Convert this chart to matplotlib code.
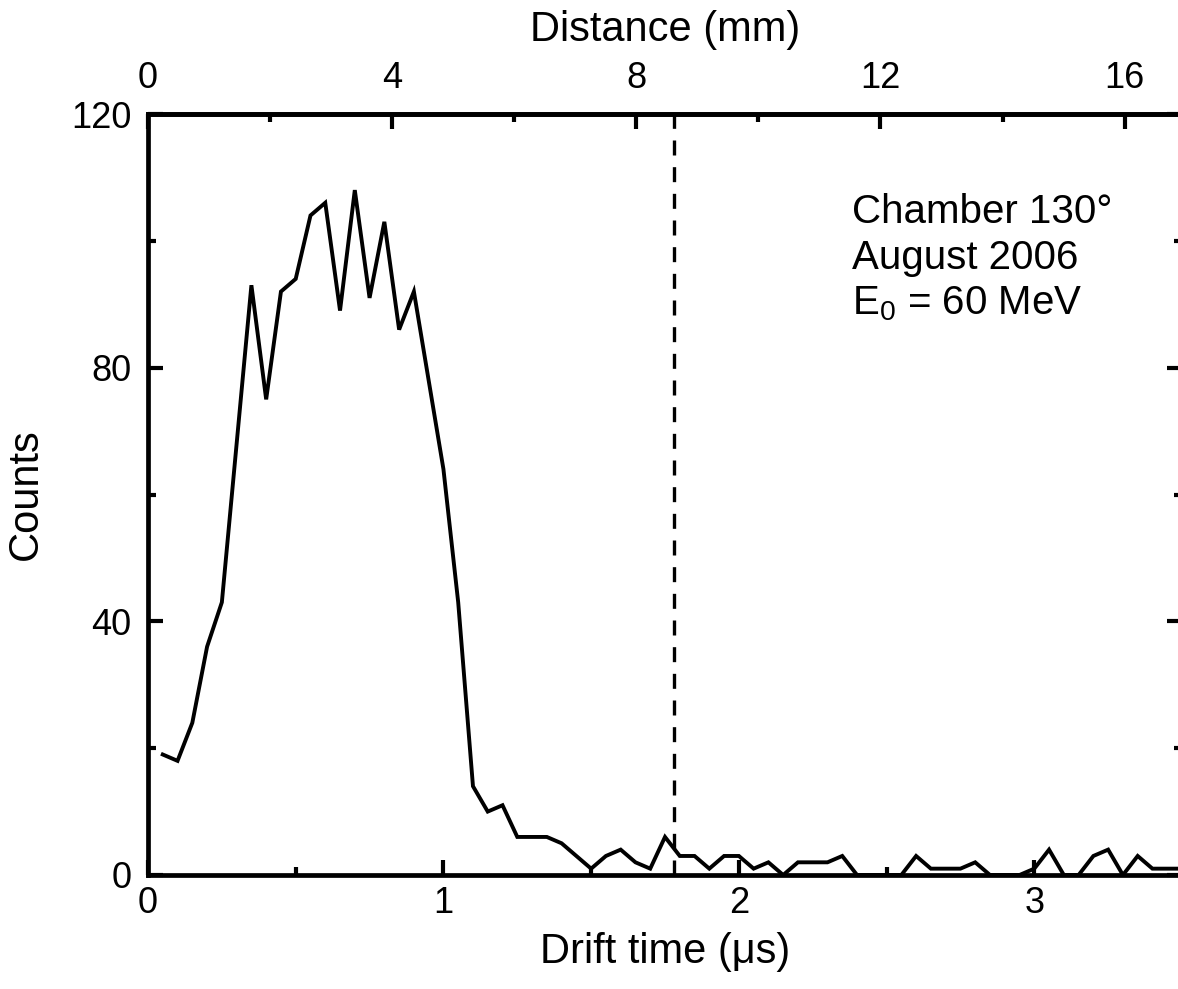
import matplotlib
matplotlib.use("Agg")
import matplotlib.pyplot as plt
from matplotlib.ticker import FixedLocator, MultipleLocator

plt.rcParams["font.family"] = ["Liberation Sans", "DejaVu Sans"]
plt.rcParams["mathtext.fontset"] = "custom"
plt.rcParams["mathtext.rm"] = "Liberation Sans"
plt.rcParams["mathtext.it"] = "Liberation Sans"

# drift time bin centres (us) and counts
drift_time = [
    0.05, 0.10, 0.15, 0.20, 0.25, 0.30, 0.35, 0.40, 0.45, 0.50,
    0.55, 0.60, 0.65, 0.70, 0.75, 0.80, 0.85, 0.90, 0.95, 1.00,
    1.05, 1.10, 1.15, 1.20, 1.25, 1.30, 1.35, 1.40, 1.45, 1.50,
    1.55, 1.60, 1.65, 1.70, 1.75, 1.80, 1.85, 1.90, 1.95, 2.00,
    2.05, 2.10, 2.15, 2.20, 2.25, 2.30, 2.35, 2.40, 2.45, 2.50,
    2.55, 2.60, 2.65, 2.70, 2.75, 2.80, 2.85, 2.90, 2.95, 3.00,
    3.05, 3.10, 3.15, 3.20, 3.25, 3.30, 3.35, 3.40, 3.45, 3.50,
]
counts = [
    19, 18, 24, 36, 43, 68, 93, 75, 92, 94,
    104, 106, 89, 108, 91, 103, 86, 92, 78, 64,
    43, 14, 10, 11, 6, 6, 6, 5, 3, 1,
    3, 4, 2, 1, 6, 3, 3, 1, 3, 3,
    1, 2, 0, 2, 2, 2, 3, 0, 0, 0,
    0, 3, 1, 1, 1, 2, 0, 0, 0, 1,
    4, 0, 0, 3, 4, 0, 3, 1, 1, 1,
]

distance_major = [0, 4, 8, 12, 16]
distance_minor = [2, 6, 10, 14]
drift_velocity = 4.84  # mm per us, links the two x scales
cut_time = 1.78  # dashed marker (us)
annotation = ["Chamber 130°", "August 2006", "E$_0$ = 60 MeV"]

fig = plt.figure(figsize=(11.78, 9.89), dpi=100)
ax = fig.add_axes([148 / 1178, 114 / 989, 1034 / 1178, 761 / 989])

ax.plot(drift_time, counts, color="black", lw=2.8, solid_joinstyle="miter")
ax.axvline(cut_time, color="black", lw=2.4, dashes=(4.5, 3.5))

ax.set_xlim(0, 3.5)
ax.set_ylim(0, 120)
ax.xaxis.set_major_locator(MultipleLocator(1))
ax.xaxis.set_minor_locator(MultipleLocator(0.5))
ax.yaxis.set_major_locator(MultipleLocator(40))
ax.yaxis.set_minor_locator(MultipleLocator(20))

for side in ax.spines.values():
    side.set_linewidth(3.4)

ax.tick_params(which="both", direction="in", right=True, width=3, labelsize=26)
ax.tick_params(which="major", length=11)
ax.tick_params(which="minor", length=6)
ax.tick_params(axis="x", pad=8)
ax.tick_params(axis="y", pad=12)

ax.set_xlabel("Drift time (μs)", fontsize=30, labelpad=8)
ax.set_ylabel("Counts", fontsize=30, labelpad=18)

top = ax.secondary_xaxis(
    "top", functions=(lambda t: t * drift_velocity, lambda d: d / drift_velocity)
)
top.xaxis.set_major_locator(FixedLocator(distance_major))
top.xaxis.set_minor_locator(FixedLocator(distance_minor))
top.spines["top"].set_linewidth(3.4)
top.tick_params(which="both", direction="in", width=3, labelsize=26, pad=13)
top.tick_params(which="major", length=11)
top.tick_params(which="minor", length=6)
top.set_xlabel("Distance (mm)", fontsize=30, labelpad=14)

for idx, line in enumerate(annotation):
    ax.text(2.382, 104.6 - idx * 7.25, line, fontsize=29, va="center", ha="left")

fig.savefig("out.png", dpi=100)
